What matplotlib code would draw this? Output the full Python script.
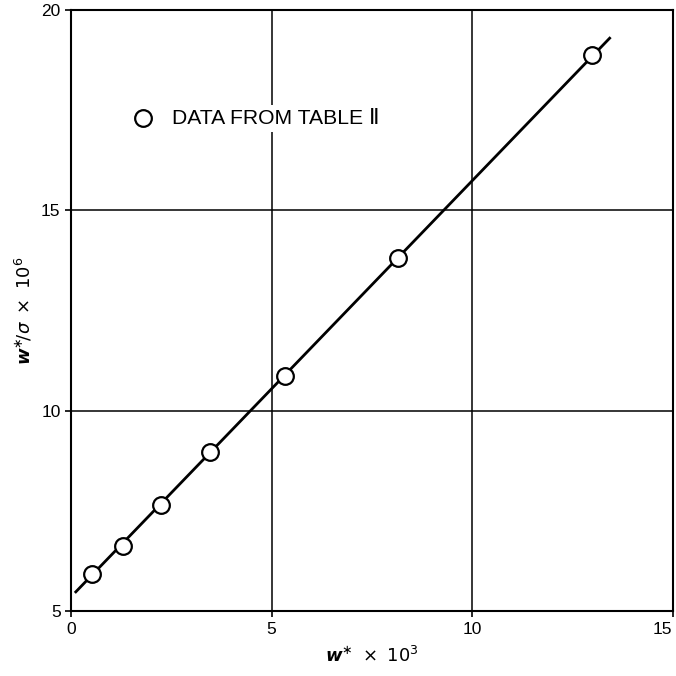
import numpy as np
import matplotlib
matplotlib.use("Agg")
import matplotlib.pyplot as plt

# points (w* x 10^3, w*/sigma x 10^6)
w_star = [0.52, 1.30, 2.24, 3.46, 5.33, 8.15, 12.98]
w_over_sigma = [5.93, 6.62, 7.65, 8.98, 10.87, 13.81, 18.88]

# straight fitted line, ends
line_x = [0.12, 13.43]
line_y = [5.48, 19.30]

x_ticks = [0, 5, 10, 15]
y_ticks = [5, 10, 15, 20]

plt.rcParams['font.family'] = ['Liberation Sans', 'DejaVu Sans']
plt.rcParams['mathtext.fontset'] = 'dejavusans'

fig = plt.figure(figsize=(6.76, 6.76), dpi=100)
ax = fig.add_axes([0.105, 0.096, 0.890, 0.889])

ax.set_xlim(0, 15)
ax.set_ylim(5, 20)
ax.set_xticks(x_ticks)
ax.set_yticks(y_ticks)
ax.set_xticklabels([str(t) for t in x_ticks], fontsize=12.5)
ax.set_yticklabels([str(t) for t in y_ticks], fontsize=12.5)
ax.tick_params(direction='out', length=4, width=1.2, colors='black')
# last x label sits left of the corner so it stays on the page
lbl15 = ax.get_xticklabels()[-1]
lbl15.set_horizontalalignment('right')

# grid only at the inner tick values
for gx in [5, 10]:
    ax.axvline(gx, color='black', lw=1.1, zorder=1)
for gy in [10, 15]:
    ax.axhline(gy, color='black', lw=1.1, zorder=1)

for s in ax.spines.values():
    s.set_linewidth(1.5)

ax.plot(line_x, line_y, color='black', lw=2.0, zorder=2)
ax.plot(w_star, w_over_sigma, 'o', mfc='white', mec='black', mew=1.6,
        ms=12, zorder=3)

# legend entry drawn by hand, as in the original figure
ax.plot([1.80], [17.30], 'o', mfc='white', mec='black', mew=1.6, ms=12, zorder=4)
ax.text(2.52, 17.30, 'DATA FROM TABLE \u2161', fontsize=15.2, va='center', ha='left',
        zorder=4, bbox=dict(facecolor='white', edgecolor='none', pad=3))

ax.set_xlabel(r'$\boldsymbol{w}^{\ast}\ \times\ 10^{3}$', fontsize=13, labelpad=7)
ax.set_ylabel(r'$\boldsymbol{w}^{\ast}\!/\sigma\ \times\ 10^{6}$', fontsize=13, labelpad=5)

fig.savefig('out.png', dpi=100)
